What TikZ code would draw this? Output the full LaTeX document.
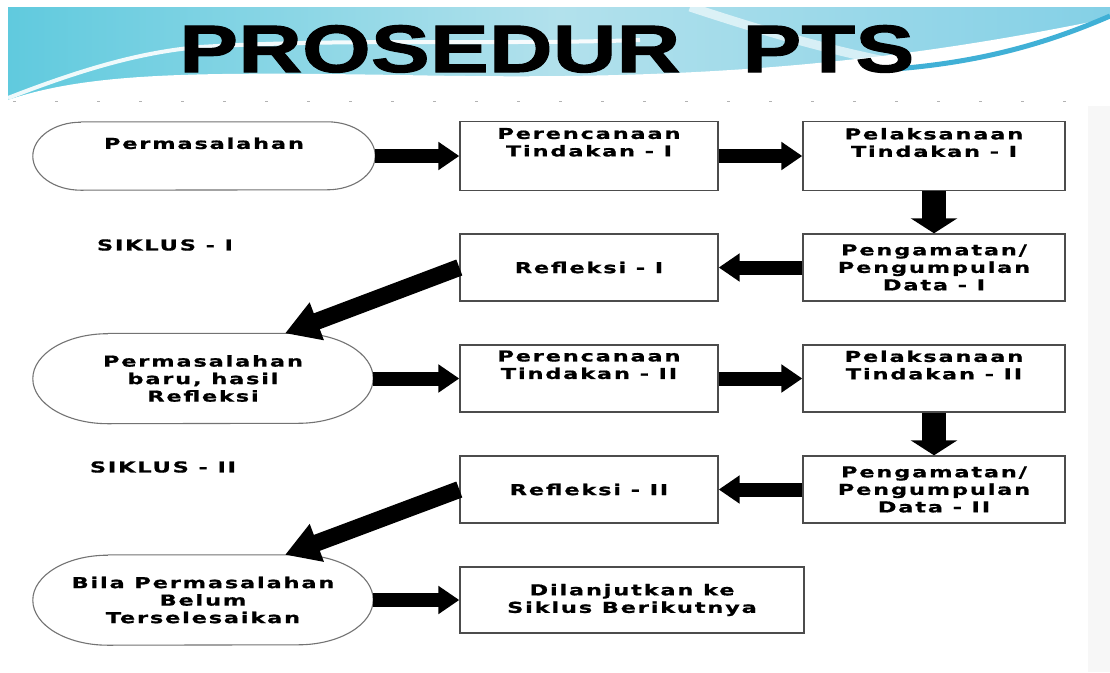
\documentclass[tikz,border=0pt]{standalone}
\usepackage{fontspec}
\usetikzlibrary{arrows.meta}
\newfontfamily\boxfont{DejaVu Sans}[UprightFont=* Bold,FakeStretch=1.5,LetterSpace=12,FakeBold=0.8]
\newfontfamily\titlefont{Liberation Sans}[UprightFont=* Bold,FakeStretch=1.32,FakeBold=1.5]
\definecolor{bandleft}{RGB}{96,202,222}
\definecolor{bandmid}{RGB}{178,225,236}
\definecolor{bandright}{RGB}{132,208,230}
\definecolor{swooshblue}{RGB}{64,176,214}
\newcommand{\toptext}[2]{\parbox[c][#1][t]{250pt}{\centering #2}}

\begin{document}
\begin{tikzpicture}[x=1pt,y=-1pt,
    stepbox/.style={draw=black!70, line width=1.4pt, inner sep=0pt, align=center,
        font=\boxfont\fontsize{15}{17.5}\selectfont},
    probnode/.style={inner sep=0pt, align=center,
        font=\boxfont\fontsize{15}{17.5}\selectfont},
    probline/.style={draw=black!55, line width=1.1pt},
    siklus/.style={inner sep=0pt, font=\boxfont\fontsize{15}{17.5}\selectfont},
    harrow/.style={line width=14pt, -{Triangle[length=21pt,width=27pt]}},
    varrow/.style={line width=24pt, -{Triangle[length=15pt,width=46pt]}},
    darrow/.style={line width=17pt, -{Triangle[length=34pt,width=38pt]}}]
    \useasboundingbox (0,0) rectangle (1110,672);
    \fill[white] (0,0) rectangle (1110,672);
    % Draw the header band
    \shade[left color=bandleft, right color=bandright, middle color=bandmid] (8,7) rectangle (1110,99);
    \draw[white, line width=9pt, opacity=.6] (690,7) .. controls (760,30) and (820,48) .. (890,62);
    \fill[white] (8,100) .. controls (90,72) and (200,72) .. (400,75) .. controls (650,80) and (850,72) .. (1110,18) -- (1110,101) -- (8,101) -- cycle;
    \draw[white, line width=4pt, opacity=.9] (8,98) .. controls (80,70) and (140,52) .. (200,47) .. controls (350,38) and (500,45) .. (640,40);
    \draw[swooshblue, line width=5pt] (880,70) .. controls (980,64) and (1050,42) .. (1110,16);
    \fill[black!3] (1088,106) rectangle (1110,672);
    % Draw the dotted rule
    \foreach \x in {13,55,...,1100}{
        \draw[black!30, line width=1pt] (\x,101) -- ++(3,0);
    }
    % Title
    \node[inner sep=0pt, anchor=base west, font=\titlefont\fontsize{67}{67}\selectfont] (title) at (179,72) {PROSEDUR\hspace{62pt}PTS};

    % Siklus I
    \node[probnode, minimum width=342pt, minimum height=68pt] (e1) at (204,156) {\toptext{37pt}{Permasalahan}};
    \node[stepbox, minimum width=258pt, minimum height=69pt] (p1) at (589,156) {\toptext{56pt}{Perencanaan\\Tindakan - I}};
    \node[stepbox, minimum width=262pt, minimum height=69pt] (l1) at (934,156) {\toptext{56pt}{Pelaksanaan\\Tindakan - I}};
    \node[stepbox, minimum width=262pt, minimum height=67pt] (g1) at (934,267.5) {Pengamatan/\\Pengumpulan\\Data - I};
    \node[stepbox, minimum width=258pt, minimum height=67pt] (r1) at (589,267.5) {Refleksi - I};
    \node[siklus] (s1) at (165,245) {SIKLUS - I};

    % Siklus II
    \node[probnode, minimum width=340pt, minimum height=90pt] (e2) at (203,378.5) {Permasalahan\\baru, hasil\\Refleksi};
    \node[stepbox, minimum width=258pt, minimum height=67pt] (p2) at (589,378.5) {\toptext{56pt}{Perencanaan\\Tindakan - II}};
    \node[stepbox, minimum width=262pt, minimum height=67pt] (l2) at (934,378.5) {\toptext{56pt}{Pelaksanaan\\Tindakan - II}};
    \node[stepbox, minimum width=262pt, minimum height=67pt] (g2) at (934,489.5) {Pengamatan/\\Pengumpulan\\Data - II};
    \node[stepbox, minimum width=258pt, minimum height=67pt] (r2) at (589,489.5) {Refleksi - II};
    \node[siklus] (s2) at (163,467) {SIKLUS - II};

    % Lanjut
    \node[probnode, minimum width=340pt, minimum height=90pt] (e3) at (203,600) {Bila Permasalahan\\Belum\\Terselesaikan};
    \node[stepbox, minimum width=344pt, minimum height=66pt] (d) at (632,600) {Dilanjutkan ke\\Siklus Berikutnya};

    % Draw the rounded outlines
    \foreach \n/\r/\h in {e1/48pt/34pt,e2/75pt/45pt,e3/75pt/45pt}{
        \draw[probline] ([xshift=\r]\n.north west) -- ([xshift=-\r]\n.north east)
            arc[start angle=90, end angle=-90, x radius=\r, y radius=\h]
            -- ([xshift=\r]\n.south west)
            arc[start angle=270, end angle=90, x radius=\r, y radius=\h];
    }

    % Draw the arrows
    \draw[harrow] (e1) -- (p1);
    \draw[harrow] (p1) -- (l1);
    \draw[varrow] (l1) -- (g1);
    \draw[harrow] (g1) -- (r1);
    \draw[darrow] (r1.west) -- ([xshift=82pt]e2.north);
    \draw[harrow] (e2) -- (p2);
    \draw[harrow] (p2) -- (l2);
    \draw[varrow] (l2) -- (g2);
    \draw[harrow] (g2) -- (r2);
    \draw[darrow] (r2.west) -- ([xshift=82pt]e3.north);
    \draw[harrow] (e3) -- (d);
\end{tikzpicture}
\end{document}
